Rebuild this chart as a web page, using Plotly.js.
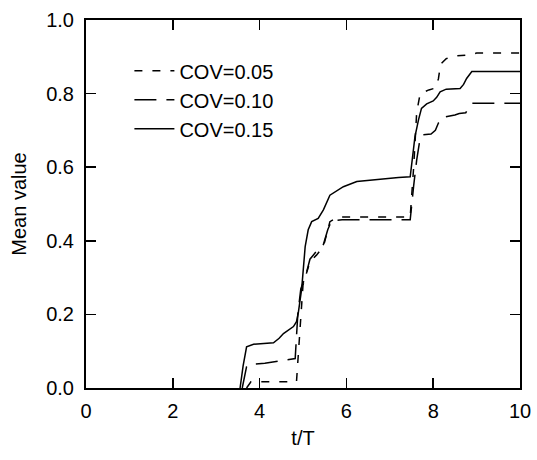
<!DOCTYPE html>
<html><head><meta charset="utf-8">
<script src="https://cdn.plot.ly/plotly-3.0.1.min.js"></script>
<style>html,body{margin:0;padding:0;background:#fff}#c{width:537px;height:460px}</style>
</head><body><div id="c"></div>
<script>
const seriesNames = ["COV=0.05", "COV=0.10", "COV=0.15"];
const t005 = [3.7, 3.8, 4.85, 4.9, 4.95, 5.0, 5.05, 5.16, 5.31, 5.47, 5.55, 5.62, 5.81, 7.47, 7.55, 7.62, 7.7, 7.9, 8.05, 8.12, 8.17, 8.3, 8.5, 8.8, 9.0, 10];
const v005 = [0, 0.017, 0.017, 0.1, 0.2, 0.28, 0.30, 0.343, 0.361, 0.384, 0.42, 0.452, 0.465, 0.465, 0.6, 0.75, 0.80, 0.81, 0.815, 0.84, 0.88, 0.895, 0.902, 0.905, 0.91, 0.91];
const t010 = [3.6, 3.7, 3.75, 4.12, 4.47, 4.70, 4.82, 4.88, 4.95, 5.05, 5.16, 5.3, 5.47, 5.57, 5.66, 5.9, 7.47, 7.55, 7.62, 7.7, 7.75, 7.95, 8.05, 8.12, 8.2, 8.5, 8.6, 8.75, 8.82, 8.9, 10];
const v010 = [0, 0.058, 0.064, 0.067, 0.074, 0.078, 0.08, 0.2, 0.27, 0.30, 0.35, 0.37, 0.39, 0.43, 0.455, 0.457, 0.457, 0.55, 0.62, 0.68, 0.688, 0.69, 0.70, 0.72, 0.735, 0.742, 0.746, 0.748, 0.762, 0.774, 0.774];
const t015 = [3.55, 3.62, 3.70, 3.86, 4.32, 4.45, 4.55, 4.78, 4.85, 4.89, 4.97, 5.05, 5.12, 5.2, 5.35, 5.47, 5.62, 5.93, 6.24, 6.7, 7.2, 7.47, 7.5, 7.58, 7.66, 7.73, 7.85, 8.0, 8.08, 8.16, 8.3, 8.62, 8.7, 8.77, 8.89, 10];
const v015 = [0, 0.06, 0.112, 0.119, 0.123, 0.135, 0.148, 0.167, 0.18, 0.203, 0.27, 0.384, 0.43, 0.452, 0.461, 0.484, 0.524, 0.547, 0.561, 0.567, 0.572, 0.574, 0.60, 0.683, 0.728, 0.76, 0.772, 0.78, 0.79, 0.805, 0.812, 0.814, 0.825, 0.841, 0.86, 0.86];
const xTicks = [0, 2, 4, 6, 8, 10];
const yTicks = [0, 0.2, 0.4, 0.6, 0.8, 1.0];

const F = "Liberation Sans, Arial, sans-serif";
const FS = 20;
const mk = (x, y, name, dash, g) => ({x, y, name, type: "scatter", mode: "lines", legendgroup: g,
  line: {color: "#000", width: 1.5, dash: dash}});
const data = [
  mk(t005, v005, seriesNames[0], "8px,10px", "a"),
  mk(t010, v010, seriesNames[1], "22px,10px", "b"),
  mk(t015, v015, seriesNames[2], "solid", "c")
];
const ax = {showgrid: false, zeroline: false, showline: true, linecolor: "#000", linewidth: 2,
  mirror: "ticks", ticks: "inside", ticklen: 10, tickwidth: 1.5, tickcolor: "#000",
  tickfont: {family: F, size: FS, color: "#000"}};
const layout = {
  width: 537, height: 460, paper_bgcolor: "#fff", plot_bgcolor: "#fff",
  margin: {l: 86, r: 17, t: 20, b: 72},
  font: {family: F, color: "#000"},
  xaxis: Object.assign({}, ax, {range: [0, 10], tickvals: xTicks, ticktext: xTicks.map(String),
    ticklabelstandoff: 4, title: {text: "t/T", font: {family: F, size: FS}, standoff: 10}}),
  yaxis: Object.assign({}, ax, {range: [0, 1], tickvals: yTicks, ticktext: yTicks.map(v => v.toFixed(1)),
    ticklabelstandoff: 6, title: {text: "Mean value", font: {family: F, size: FS}, standoff: 14}}),
  showlegend: true,
  legend: {x: 0.1, y: 0.915, xanchor: "left", yanchor: "top", bgcolor: "rgba(0,0,0,0)",
    font: {family: F, size: FS, color: "#000"}, tracegroupgap: 0, itemwidth: 40, traceorder: "normal"}
};
Plotly.newPlot("c", data, layout, {displayModeBar: false, staticPlot: true});
</script></body></html>
